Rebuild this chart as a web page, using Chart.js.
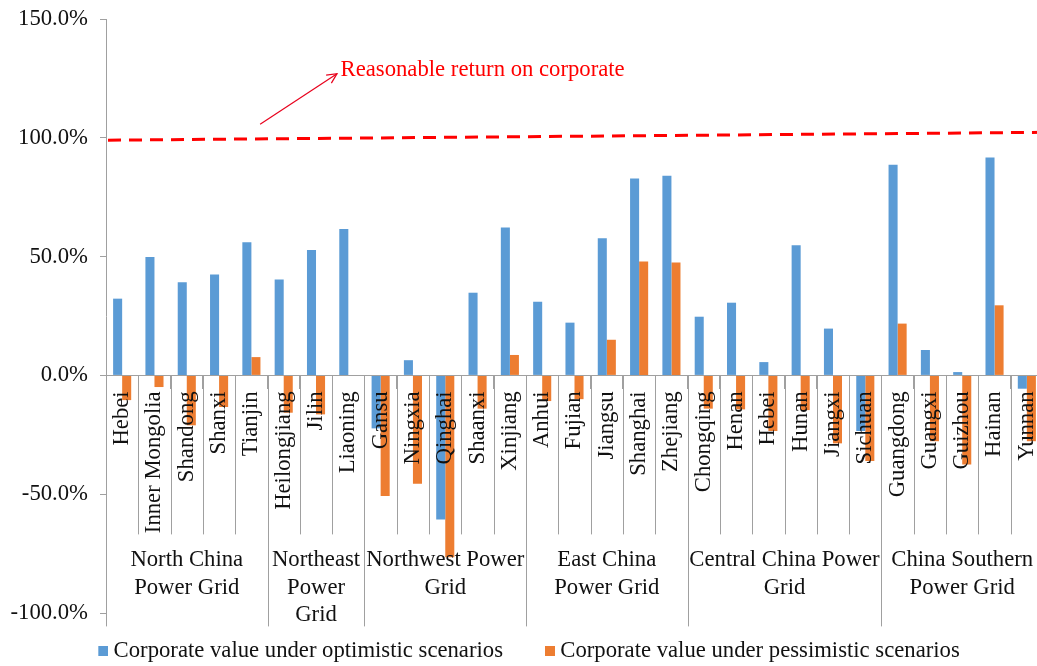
<!DOCTYPE html>
<html><head><meta charset="utf-8">
<script src="https://cdn.jsdelivr.net/npm/chart.js@4.4.1/dist/chart.umd.min.js"></script>
<style>html,body{margin:0;padding:0;background:#fff;overflow:hidden}#wrap{width:1043px;height:666px;position:relative}</style>
</head><body><div id="wrap"><canvas id="c"></canvas></div>
<script>
const provinces = ['Hebei','Inner Mongolia','Shandong','Shanxi','Tianjin','Heilongjiang','Jilin','Liaoning','Gansu','Ningxia','Qinghai','Shaanxi','Xinjiang','Anhui','Fujian','Jiangsu','Shanghai','Zhejiang','Chongqing','Henan','Hebei','Hunan','Jiangxi','Sichuan','Guangdong','Guangxi','Guizhou','Hainan','Yunnan'];
const optimistic = [32.3,49.8,39.2,42.5,56.0,40.4,52.8,61.6,-22.3,6.4,-60.7,34.8,62.3,31.0,22.2,57.7,82.9,84.0,24.7,30.6,5.6,54.8,19.7,-23.4,88.7,10.7,1.4,91.7,-5.6];
const pessimistic = [-10.4,-4.9,-21.0,-13.3,7.7,-15.7,-16.4,0,-50.8,-45.6,-76.5,-14.0,8.6,-10.8,-10.0,15.0,47.9,47.5,-14.0,-14.3,-23.4,-14.6,-28.6,-36.0,21.8,-27.7,-37.5,29.5,-27.7];
const groupNames = [['North China','Power Grid'],['Northeast','Power','Grid'],['Northwest Power','Grid'],['East China','Power Grid'],['Central China Power','Grid'],['China Southern','Power Grid']];
const groupSizes = [5,3,5,5,6,5];
const reasonableReturn = [99, 102.3]; // value at left edge, value at right edge of plot
const seriesNames = ['Corporate value under optimistic scenarios','Corporate value under pessimistic scenarios'];
const annotationText = 'Reasonable return on corporate';
const yMin = -100, yMax = 150, yStep = 50;

const FONT = "'Liberation Serif', 'Times New Roman', serif";
const FS = 22.7;
const GRAY = '#A0A0A0';
const BLUE = '#5B9BD5', ORANGE = '#ED7D31';

function legendSwatch(color) {
  const c = document.createElement('canvas');
  c.width = 31; c.height = 10;
  const g = c.getContext('2d');
  g.fillStyle = color; g.fillRect(21, 0, 10, 10);
  return c;
}

const decorPlugin = {
  id: 'decor',
  afterDatasetsDraw(chart) {
    const ctx = chart.ctx, ys = chart.scales.y, ca = chart.chartArea;
    ctx.save();
    ctx.strokeStyle = '#FF0000'; ctx.lineWidth = 3; ctx.setLineDash([13, 8]);
    ctx.beginPath();
    ctx.moveTo(ca.left + 2, ys.getPixelForValue(reasonableReturn[0]));
    ctx.lineTo(ca.right, ys.getPixelForValue(reasonableReturn[1]));
    ctx.stroke();
    ctx.restore();
  },
  afterDraw(chart) {
    const ctx = chart.ctx, xs = chart.scales.x, ys = chart.scales.y;
    const y0 = ys.getPixelForValue(0);
    const catBottom = y0 + 159, grpBottom = y0 + 251;
    ctx.save();
    ctx.strokeStyle = GRAY; ctx.lineWidth = 1;
    let b = 0;
    const bounds = [0];
    groupSizes.forEach(s => { b += s; bounds.push(b); });
    for (let i = 0; i <= provinces.length; i++) {
      const px = Math.round(xs.getPixelForValue(i - 0.5)) + 0.5;
      const isGroup = bounds.includes(i);
      ctx.beginPath();
      ctx.moveTo(px, y0);
      ctx.lineTo(px, isGroup ? grpBottom : catBottom);
      ctx.stroke();
    }
    ctx.fillStyle = '#111';
    ctx.font = FS + 'px ' + FONT;
    ctx.textAlign = 'center'; ctx.textBaseline = 'middle';
    for (let g = 0; g < groupNames.length; g++) {
      const cx = (xs.getPixelForValue(bounds[g] - 0.5) + xs.getPixelForValue(bounds[g + 1] - 0.5)) / 2;
      groupNames[g].forEach((line, k) => {
        ctx.fillText(line, cx, y0 + 185 + k * 27.5);
      });
    }
    const ax1 = xs.getPixelForValue(4.27), ay1 = ys.getPixelForValue(105.7);
    const ax2 = xs.getPixelForValue(6.65), ay2 = ys.getPixelForValue(127);
    ctx.strokeStyle = '#E8001C'; ctx.lineWidth = 1.2;
    ctx.beginPath(); ctx.moveTo(ax1, ay1); ctx.lineTo(ax2, ay2); ctx.stroke();
    const ang = Math.atan2(ay2 - ay1, ax2 - ax1), hl = 11;
    ctx.beginPath();
    ctx.moveTo(ax2 - hl * Math.cos(ang - 0.45), ay2 - hl * Math.sin(ang - 0.45));
    ctx.lineTo(ax2, ay2);
    ctx.lineTo(ax2 - hl * Math.cos(ang + 0.45), ay2 - hl * Math.sin(ang + 0.45));
    ctx.stroke();
    ctx.fillStyle = '#FF0000';
    ctx.textAlign = 'left'; ctx.textBaseline = 'middle';
    ctx.font = FS + 'px ' + FONT;
    ctx.fillText(annotationText, xs.getPixelForValue(6.76), ys.getPixelForValue(128.5));
    ctx.restore();
  }
};

new Chart(document.getElementById('c'), {
  type: 'bar',
  data: {
    labels: provinces,
    datasets: [
      { label: seriesNames[0], data: optimistic, backgroundColor: BLUE, borderWidth: 0, categoryPercentage: 0.56, barPercentage: 1.0, pointStyle: legendSwatch(BLUE) },
      { label: seriesNames[1], data: pessimistic, backgroundColor: ORANGE, borderWidth: 0, categoryPercentage: 0.56, barPercentage: 1.0, pointStyle: legendSwatch(ORANGE) }
    ]
  },
  options: {
    responsive: true, maintainAspectRatio: false, animation: false,
    layout: { padding: { top: 0, right: 0, bottom: 0, left: 0 } },
    scales: {
      x: {
        type: 'category', position: { y: 0 },
        afterFit(s) { s.paddingLeft = 0; s.paddingRight = 0; },
        grid: { offset: true, drawOnChartArea: false, drawTicks: true, tickLength: 13, color: GRAY },
        border: { color: GRAY, width: 1, z: 1 },
        ticks: { z: 1, autoSkip: false, minRotation: 90, maxRotation: 90, color: '#111', font: { family: FONT, size: FS } }
      },
      y: {
        min: yMin, max: yMax,
        afterFit(s) { s.width = 106; s.paddingTop = 19; s.paddingBottom = 12; },
        grid: { drawOnChartArea: false, drawTicks: true, tickLength: 6, color: GRAY },
        border: { color: GRAY, width: 1 },
        ticks: { stepSize: yStep, padding: 12, color: '#111', font: { family: FONT, size: FS }, callback: v => v.toFixed(1) + '%' }
      }
    },
    plugins: {
      tooltip: { enabled: false },
      legend: {
        position: 'bottom', maxHeight: 53,
        labels: { usePointStyle: true, pointStyleWidth: 19, boxHeight: 10, padding: 27, color: '#111', font: { family: FONT, size: FS } }
      }
    }
  },
  plugins: [decorPlugin]
});
</script></body></html>
